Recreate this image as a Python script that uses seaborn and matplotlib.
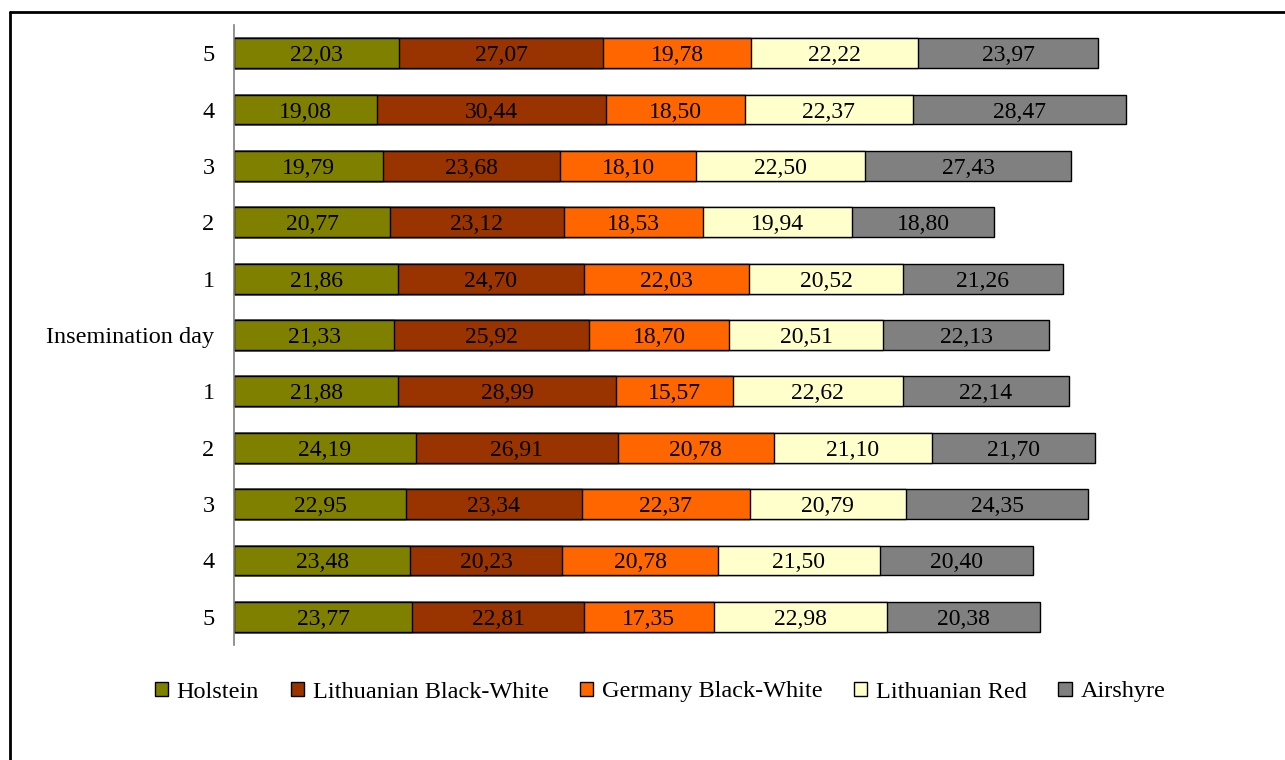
import numpy as np
import pandas as pd
import matplotlib
matplotlib.use("Agg")
import matplotlib.pyplot as plt
from matplotlib.lines import Line2D
from matplotlib.patches import Patch
import seaborn as sns

# Rows from top to bottom: days before insemination, the day itself, days after
row_keys = ["b5", "b4", "b3", "b2", "b1", "ins", "a1", "a2", "a3", "a4", "a5"]
row_labels = ["5", "4", "3", "2", "1", "Insemination day", "1", "2", "3", "4", "5"]

breeds = ["Holstein", "Lithuanian Black-White", "Germany Black-White",
          "Lithuanian Red", "Airshyre"]

holstein = [22.03, 19.08, 19.79, 20.77, 21.86, 21.33, 21.88, 24.19, 22.95, 23.48, 23.77]
lith_bw = [27.07, 30.44, 23.68, 23.12, 24.70, 25.92, 28.99, 26.91, 23.34, 20.23, 22.81]
germany_bw = [19.78, 18.50, 18.10, 18.53, 22.03, 18.70, 15.57, 20.78, 22.37, 20.78, 17.35]
lith_red = [22.22, 22.37, 22.50, 19.94, 20.52, 20.51, 22.62, 21.10, 20.79, 21.50, 22.98]
airshyre = [23.97, 28.47, 27.43, 18.80, 21.26, 22.13, 22.14, 21.70, 24.35, 20.40, 20.38]

colors = ["#808000", "#993300", "#FF6600", "#FFFFCC", "#808080"]

series = [holstein, lith_bw, germany_bw, lith_red, airshyre]
df = pd.DataFrame({"row": row_keys})
for name, vals in zip(breeds, series):
    df[name] = vals
cum = df[breeds].cumsum(axis=1)

sns.set_theme(style="white")
plt.rcParams["font.family"] = ["Liberation Serif", "DejaVu Serif"]
plt.rcParams["text.color"] = "black"
plt.rcParams["ytick.color"] = "black"

fig = plt.figure(figsize=(12.85, 7.6), dpi=100)
W, H = 1285, 760
ax = fig.add_axes([234 / W, 1 - 645 / H, (1250 - 234) / W, (645 - 25) / H])

# stacked bars: draw cumulative totals from the outermost segment inward
for name, col in reversed(list(zip(breeds, colors))):
    sns.barplot(x=cum[name], y=df["row"], order=row_keys, orient="h",
                color=col, saturation=1, width=0.53, edgecolor="black",
                linewidth=1.0, ax=ax)

# value labels centred in each segment
for i in range(len(row_keys)):
    for name in breeds:
        v = df[name].iloc[i]
        c = cum[name].iloc[i] - v / 2
        ax.text(c, i, f"{v:.2f}".replace(".", ","), ha="center",
                va="center_baseline", fontsize=17, color="black")

ax.set_xlim(0, (1250 - 234) / ((1098 - 234) / 115.07))
ax.set_ylim(10.5, -0.5)
ax.set_xlabel("")
ax.set_ylabel("")
ax.set_xticks([])
ax.set_yticks(range(len(row_keys)))
ax.set_yticklabels(row_labels, fontsize=17.5, color="black")
ax.tick_params(axis="y", length=0, pad=14)
for s in ["top", "right", "bottom"]:
    ax.spines[s].set_visible(False)
ax.spines["left"].set_color("#808080")
ax.spines["left"].set_linewidth(1.2)

handles = [Patch(facecolor=c, edgecolor="black", linewidth=1.0) for c in colors]
fig.legend(handles, breeds, loc="center", bbox_to_anchor=(660 / W, 1 - 692 / H),
           ncol=5, frameon=False, fontsize=17.5, handlelength=0.55,
           handleheight=0.55, handletextpad=0.35, columnspacing=1.3)

# outer frame
fig.add_artist(Line2D([10 / W, 10 / W], [0, 1 - 12 / H], color="black",
                      linewidth=2, transform=fig.transFigure))
fig.add_artist(Line2D([10 / W, 1], [1 - 12 / H, 1 - 12 / H], color="black",
                      linewidth=2, transform=fig.transFigure))

fig.savefig("out.png", dpi=100)
